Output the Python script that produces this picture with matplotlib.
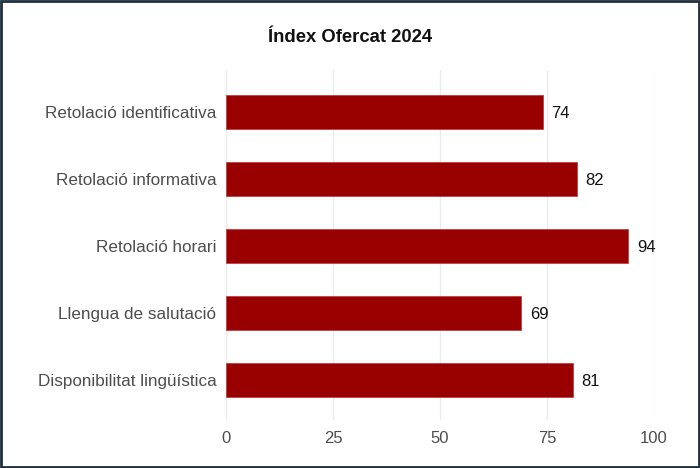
import matplotlib
matplotlib.use("Agg")
import matplotlib.pyplot as plt
from matplotlib.patches import Rectangle

categories = ["Retolació identificativa", "Retolació informativa", "Retolació horari",
              "Llengua de salutació", "Disponibilitat lingüística"]
values = [74, 82, 94, 69, 81]
xticks = [0, 25, 50, 75, 100]
title = "Índex Ofercat 2024"

plt.rcParams['font.family'] = ['Liberation Sans', 'DejaVu Sans']

fig = plt.figure(figsize=(7, 4.68), dpi=100)
ax = fig.add_axes([226/700, 48/468, 428/700, 350/468])

y = list(range(len(categories)))[::-1]
ax.barh(y, values, height=0.5, color="#990000", edgecolor="#c04040", linewidth=0.6, zorder=3)
for yi, v in zip(y, values):
    ax.text(v + 2, yi, str(v), va="center_baseline", ha="left", fontsize=12, color="#111111")

ax.set_yticks(y)
ax.set_yticklabels(categories, fontsize=12.3, color="#4d4d4d")
ax.set_xticks(xticks)
ax.set_xticklabels([str(t) for t in xticks], fontsize=12, color="#4d4d4d")
ax.set_xlim(0, 100)
ax.set_ylim(-0.6, 4.63)
ax.grid(axis="x", color="#ebebeb", linewidth=1.0, zorder=0)
ax.tick_params(length=0, pad=7)
ax.tick_params(axis="x", pad=8)
for s in ax.spines.values():
    s.set_visible(False)

fig.text(350/700, 1 - 38/468, title, ha="center", va="center", fontsize=13.3, fontweight="bold", color="#111111")

fig.patches.append(Rectangle((0.002, 0.003), 0.996, 0.994, transform=fig.transFigure,
                             fill=False, edgecolor="#1f2f3f", linewidth=2))

fig.savefig("out.png", dpi=100)
